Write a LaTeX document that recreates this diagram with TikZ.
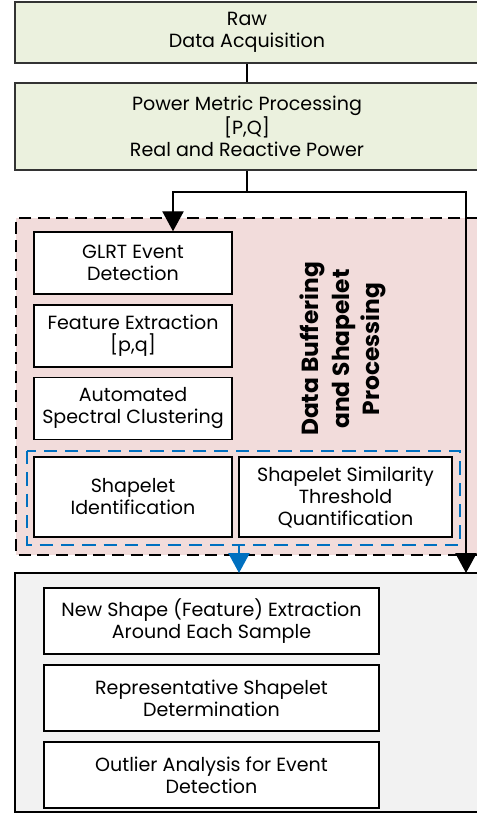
\documentclass[tikz,border=0pt]{standalone}
\usepackage{fontspec}
\setmainfont{Poppins}
\usetikzlibrary{arrows.meta,positioning,calc}

\begin{document}
\begin{tikzpicture}[x=0.75pt,y=-0.75pt,thick,
    txt/.style={font=\fontsize{14.3}{16.5}\selectfont,align=center},
    topbox/.style={txt,draw=black!80,line width=1.2pt,fill=greena,minimum width=464*0.75pt,inner sep=0pt},
    stepbox/.style={txt,draw=black,line width=1.1pt,fill=white,inner sep=0pt},
    flow/.style={line width=1.1pt,-{Triangle[length=15pt,width=16pt]}}]
    \definecolor{greena}{HTML}{EBF1DE}
    \definecolor{pinkb}{HTML}{F2DCDB}
    \definecolor{grayc}{HTML}{F2F2F2}
    \definecolor{blued}{HTML}{0070C0}
    \useasboundingbox (0,0) rectangle (477,823);
    \clip (0,0) rectangle (477,823);
    % containers
    \fill[pinkb] (16,218) rectangle (479,555);
    \draw[line width=1.1pt,fill=grayc] (15,573) rectangle (479,812);
    % top stages
    \node[topbox,minimum height=61*0.75pt] (raw) at (247,32.5) {Raw\\Data Acquisition};
    \node[topbox,minimum height=87*0.75pt] (pmp) at (247,126.5) {Power Metric Processing\\{}[P,Q]\\Real and Reactive Power};
    % buffering stages
    \node[stepbox,minimum width=198*0.75pt,minimum height=62*0.75pt] (glrt) at (133,263) {GLRT Event\\Detection};
    \node[stepbox,minimum width=198*0.75pt,minimum height=62*0.75pt] (feat) at (133,336) {Feature Extraction\\{}[p,q]};
    \node[stepbox,minimum width=198*0.75pt,minimum height=62*0.75pt] (asc) at (133,408.5) {Automated\\Spectral Clustering};
    \node[stepbox,minimum width=198*0.75pt,minimum height=80*0.75pt] (shid) at (133,497) {Shapelet\\Identification};
    \node[stepbox,minimum width=213*0.75pt,minimum height=80*0.75pt] (shsim) at (345.5,497) {Shapelet Similarity\\Threshold\\Quantification};
    \node[rotate=90,align=center,font=\fontsize{17.5}{23}\selectfont\bfseries] (title) at (343,349) {Data Buffering\\and Shapelet\\Processing};
    % detection stages
    \node[stepbox,minimum width=335*0.75pt,minimum height=66*0.75pt] (newshape) at (211.5,621) {New Shape (Feature) Extraction\\Around Each Sample};
    \node[stepbox,minimum width=335*0.75pt,minimum height=66*0.75pt] (repshape) at (211.5,698) {Representative Shapelet\\Determination};
    \node[stepbox,minimum width=335*0.75pt,minimum height=66*0.75pt] (outlier) at (211.5,775) {Outlier Analysis for Event\\Detection};
    % dashed borders
    \draw[line width=1.1pt,dash pattern=on 9pt off 5pt] (479,218) -- (16,218) -- (16,555) -- (479,555);
    \draw[blued,line width=1.1pt,dash pattern=on 10pt off 6pt] (27,451) rectangle (460,545);
    % connectors
    \coordinate (split) at (247,192);
    \coordinate (left) at (173,192);
    \coordinate (right) at (466,192);
    \coordinate (grp) at (239,545);
    \draw[line width=1.1pt] (raw) -- (pmp);
    \draw[line width=1.1pt] (pmp) -- (split);
    \draw[flow] (split) -- (left) -- (left |- glrt.north);
    \draw[flow] (split) -- (right) -- (right |- 0,573);
    \draw[flow,blued] (grp) -- (grp |- 0,573);
\end{tikzpicture}
\end{document}
